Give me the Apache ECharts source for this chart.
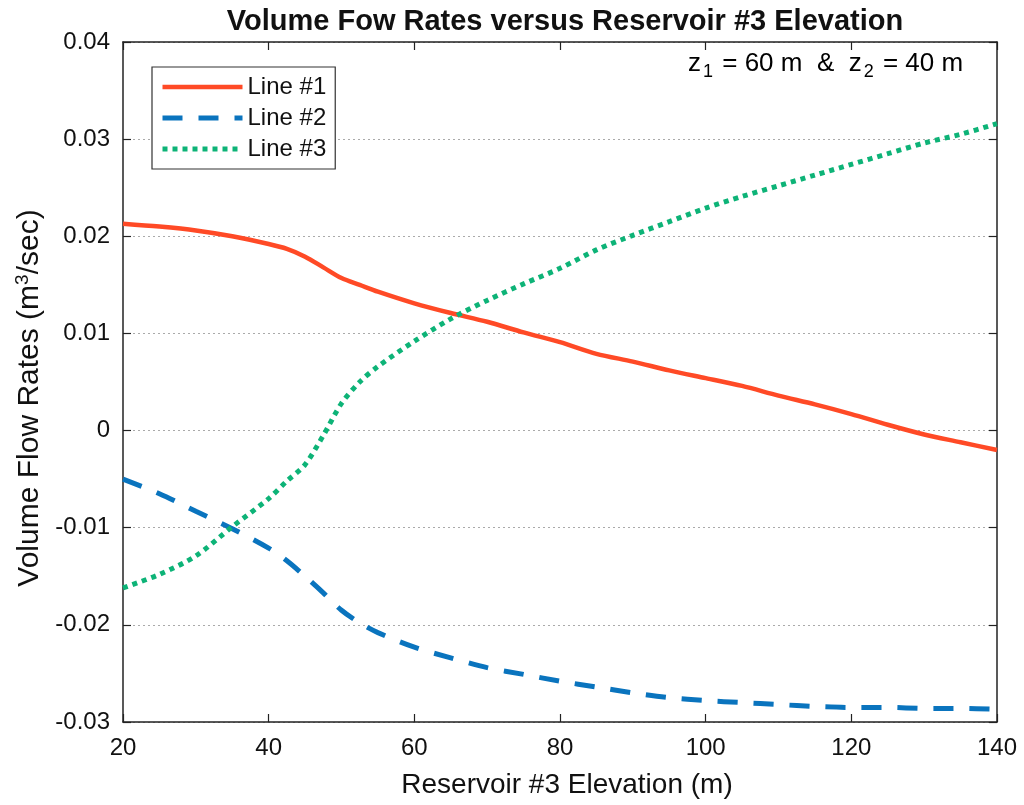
<!DOCTYPE html>
<html>
<head>
<meta charset="utf-8">
<script src="https://cdn.jsdelivr.net/npm/echarts@6/dist/echarts.min.js"></script>
<style>
html,body{margin:0;padding:0;background:#fff;}
#chart{width:1024px;height:805px;}
</style>
</head>
<body>
<div id="chart"></div>
<script>
// Reservoir #3 elevation (m)
const elevation = [20, 25, 30, 35, 40, 42.5, 45, 47.5, 50, 52.5, 55, 60, 65, 70, 75, 80, 85, 90, 95, 100, 105, 110, 115, 120, 125, 130, 135, 140];
// Volume flow rates (m^3/sec)
const line1 = [0.0213, 0.0210, 0.0206, 0.0200, 0.0192, 0.0187, 0.0179, 0.0168, 0.0157, 0.0150, 0.0143, 0.0131, 0.0121, 0.0112, 0.0101, 0.0091, 0.0079, 0.0071, 0.0062, 0.0054, 0.0046, 0.0036, 0.0027, 0.0017, 0.0006, -0.0004, -0.0012, -0.0020];
const line2 = [-0.0050, -0.0065, -0.0083, -0.0101, -0.0121, -0.0134, -0.0150, -0.0167, -0.0185, -0.0198, -0.0208, -0.0223, -0.0234, -0.0244, -0.0251, -0.0258, -0.0264, -0.0270, -0.0275, -0.0278, -0.0280, -0.0282, -0.0284, -0.0285, -0.0285, -0.0286, -0.0286, -0.0287];
const line3 = [-0.0162, -0.0148, -0.0129, -0.0099, -0.0070, -0.0052, -0.0035, -0.0005, 0.0028, 0.0050, 0.0066, 0.0092, 0.0115, 0.0134, 0.0151, 0.0167, 0.0186, 0.0201, 0.0215, 0.0229, 0.0241, 0.0252, 0.0263, 0.0274, 0.0285, 0.0296, 0.0305, 0.0316];
const seriesNames = ['Line #1', 'Line #2', 'Line #3'];
const xTicks = {min: 20, max: 140, interval: 20};
const yTicks = {min: -0.03, max: 0.04, interval: 0.01};

const zip = (ys) => elevation.map((x, i) => [x, ys[i]]);
const FONT = 'Liberation Sans, Arial, sans-serif';

const chart = echarts.init(document.getElementById('chart'));
const boxAxisLine = {show: true, onZero: false, lineStyle: {color: '#222', width: 1.5}};
const inTick = {show: true, inside: true, length: 8, lineStyle: {color: '#222', width: 1.2}};

chart.setOption({
  animation: false,
  backgroundColor: '#fff',
  title: {
    text: 'Volume Fow Rates versus Reservoir #3 Elevation',
    left: 560, top: 2, textAlign: 'center',
    textStyle: {fontFamily: FONT, fontWeight: 'bold', fontSize: 29, color: '#111'}
  },
  grid: {left: 123, right: 27, top: 42, bottom: 83},
  legend: {
    orient: 'vertical', left: 152, top: 67,
    data: seriesNames,
    itemWidth: 80, itemHeight: 20, itemGap: 7,
    padding: [8, 9, 8, 8],
    borderColor: '#333', borderWidth: 1.2, backgroundColor: '#fff',
    itemStyle: {opacity: 0},
    lineStyle: {width: 'inherit', type: 'inherit'},
    textStyle: {fontFamily: FONT, fontSize: 24, color: '#111'}
  },
  xAxis: [{
    type: 'value', min: xTicks.min, max: xTicks.max, interval: xTicks.interval,
    name: 'Reservoir #3 Elevation (m)', nameLocation: 'middle', nameGap: 49,
    nameTextStyle: {fontFamily: FONT, fontSize: 28, color: '#111', padding: [0, 0, 0, 14]},
    axisLine: boxAxisLine, axisTick: inTick,
    axisLabel: {fontFamily: FONT, fontSize: 24, color: '#111', margin: 14},
    splitLine: {show: false}
  }, {
    type: 'value', position: 'top', min: xTicks.min, max: xTicks.max, interval: xTicks.interval,
    axisLine: boxAxisLine, axisTick: inTick, axisLabel: {show: false}, splitLine: {show: false}
  }],
  yAxis: [{
    type: 'value', min: yTicks.min, max: yTicks.max, interval: yTicks.interval,
    name: 'Volume Flow Rates (m{sup|3}/sec)', nameLocation: 'middle', nameGap: 74, nameRotate: 90,
    nameTextStyle: {fontFamily: FONT, fontSize: 30, color: '#111', padding: [0, 32, 0, 0],
      rich: {sup: {fontFamily: FONT, fontSize: 19, color: '#111', padding: [0, 0, 14, 0]}}},
    axisLine: boxAxisLine, axisTick: inTick,
    axisLabel: {fontFamily: FONT, fontSize: 24, color: '#111', margin: 13,
      formatter: (v) => (Math.abs(v) < 1e-9 ? '0' : String(+v.toFixed(2)))},
    splitLine: {show: true, lineStyle: {color: '#aaa', type: [2, 3], width: 1}}
  }, {
    type: 'value', position: 'right', min: yTicks.min, max: yTicks.max, interval: yTicks.interval,
    axisLine: boxAxisLine, axisTick: inTick, axisLabel: {show: false}, splitLine: {show: false}
  }],
  graphic: [{
    type: 'text', left: 688, top: 51,
    style: {
      text: '{m|z}{s|1}{m| = 60 m  &  z}{s|2}{m| = 40 m}',
      rich: {
        m: {fontFamily: FONT, fontSize: 26, color: '#111'},
        s: {fontFamily: FONT, fontSize: 18, color: '#111', padding: [16, 2, 0, 2]}
      }
    }
  }],
  series: [{
    name: seriesNames[0], type: 'line', data: zip(line1), symbol: 'none', smooth: 0.3,
    lineStyle: {color: '#FF4A26', width: 4.5}, itemStyle: {color: '#FF4A26'}
  }, {
    name: seriesNames[1], type: 'line', data: zip(line2), symbol: 'none', smooth: 0.3,
    lineStyle: {color: '#0A74BE', width: 5, type: [20, 16]}, itemStyle: {color: '#0A74BE'}
  }, {
    name: seriesNames[2], type: 'line', data: zip(line3), symbol: 'none', smooth: 0.3,
    lineStyle: {color: '#0DB377', width: 5, type: [5, 5]}, itemStyle: {color: '#0DB377'}
  }]
});
</script>
</body>
</html>
